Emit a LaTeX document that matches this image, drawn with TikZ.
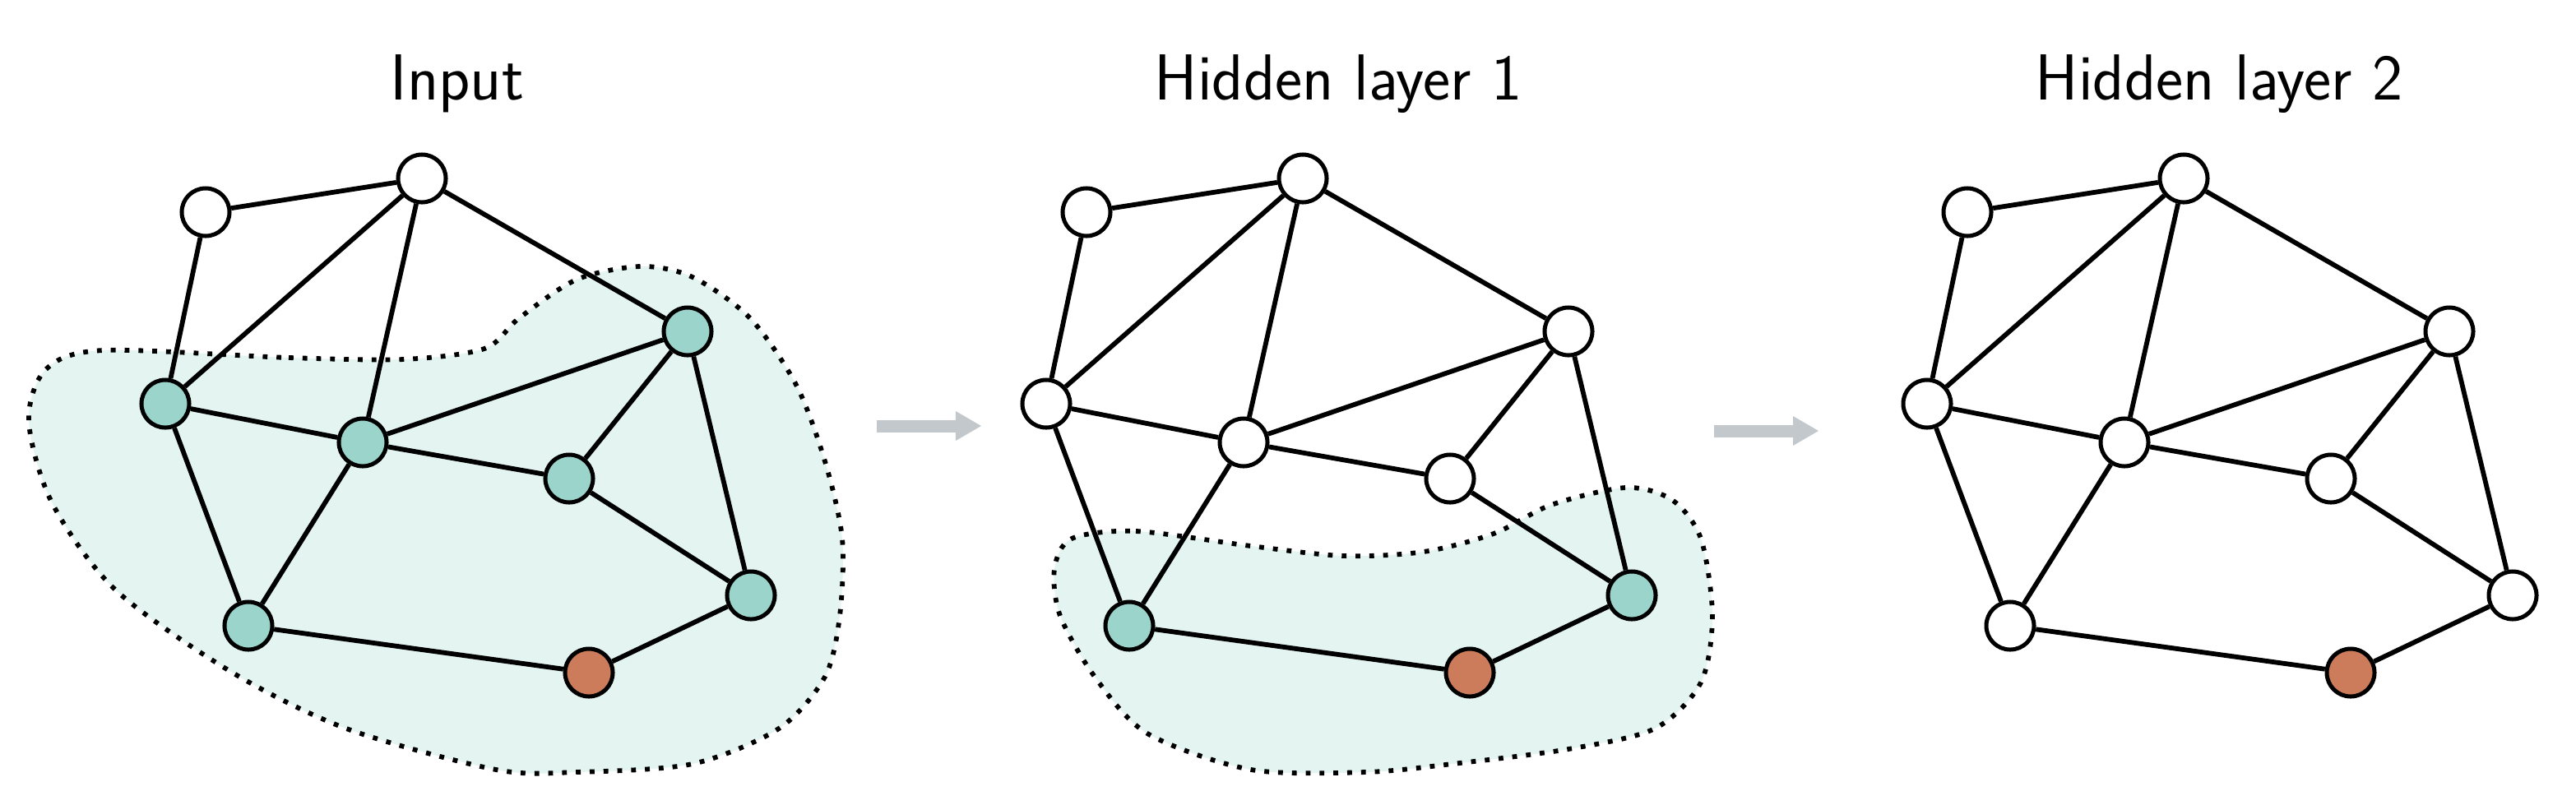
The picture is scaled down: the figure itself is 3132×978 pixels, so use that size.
\documentclass[tikz,border=0pt]{standalone}
\usepackage{fontspec}
\usepackage{tikz}
\usetikzlibrary{arrows.meta}
\definecolor{vtealc}{HTML}{9BD4CB}
\definecolor{vorangec}{HTML}{CC7C5A}
\definecolor{hoodc}{HTML}{E3F4F1}
\definecolor{flowc}{HTML}{C2C8CB}
\tikzset{
  line/.style = {line width=0.058cm},
  hood/.style = {fill=hoodc, draw=black, line width=0.058cm, dash pattern=on 0.058cm off 0.11cm},
  flow/.style = {draw=flowc, line width=0.15cm, -{Triangle[length=0.31cm, width=0.36cm, line width=0pt]}},
  title/.style = {anchor=base, font=\sffamily\fontsize{22.5}{27}\selectfont},
  vwhite/.style = {fill=white},
  vteal/.style = {fill=vtealc},
  vorange/.style = {fill=vorangec}
}
\begin{document}
\begin{tikzpicture}[
    x=0.01cm, y=-0.01cm,
    vertex/.style={
      circle,
      draw=black,
      line width=0.05cm,
      inner sep=0pt,
      minimum size=0.58cm
    }
  ]
    \useasboundingbox (0,0) rectangle (3132,978);
    % neighbourhoods
    \draw[hood] plot[smooth cycle] coordinates {(126,426) (351,435) (491,437) (589,424) (631,387) (701,340) (779,324) (842,337) (912,387) (968,468) (1003,561) (1024,655) (1021,749) (1003,823) (947,886) (842,929) (701,939) (603,936) (421,886) (281,817) (140,717) (63,611) (35,512) (56,449)};
    \draw[hood] plot[smooth cycle] coordinates {(1303,655) (1381,646) (1521,664) (1633,676) (1731,671) (1816,649) (1886,614) (1977,593) (2033,608) (2068,655) (2082,749) (2068,830) (2012,886) (1907,911) (1766,929) (1661,939) (1521,936) (1395,892) (1331,823) (1289,749) (1282,692)};
    % titles
    \node[title] (t1) at (556,121) {Input};
    \node[title] (t2) at (1627,121) {Hidden layer 1};
    \node[title] (t3) at (2698,121) {Hidden layer 2};
    % graphs
    \foreach \n/\x/\y/\sa/\sb/\sc in {
      a/250/258/vwhite/vwhite/vwhite,
      b/513/217/vwhite/vwhite/vwhite,
      c/836/403/vteal/vwhite/vwhite,
      d/201/491/vteal/vwhite/vwhite,
      e/441/538/vteal/vwhite/vwhite,
      f/692/582/vteal/vwhite/vwhite,
      g/302/761/vteal/vteal/vwhite,
      h/716/818/vorange/vorange/vorange,
      i/913/724/vteal/vteal/vwhite} {
      \node[vertex,\sa] (\n1) at (\x,\y) {};
      \node[vertex,\sb] (\n2) at (\x+1071,\y) {};
      \node[vertex,\sc] (\n3) at (\x+2142,\y) {};
    }
    \foreach \p in {1,2,3} {
      \foreach \u/\v in {a/b,a/d,b/d,b/e,b/c,d/e,d/g,c/e,e/f,e/g,c/f,c/i,f/i,g/h,h/i} {
        \draw[line] (\u\p) -- (\v\p);
      }
    }
    % arrows
    \coordinate (s1) at (1066,518);
    \coordinate (e1) at (1193,518);
    \coordinate (s2) at (2084,524);
    \coordinate (e2) at (2211,524);
    \draw[flow] (s1) -- (e1);
    \draw[flow] (s2) -- (e2);
  \end{tikzpicture}
\end{document}
